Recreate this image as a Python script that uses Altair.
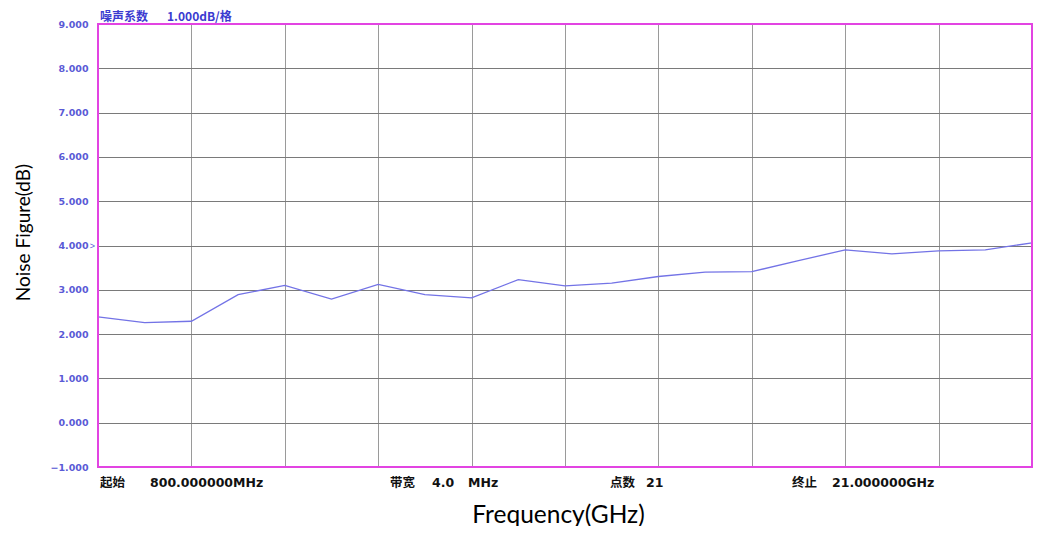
import altair as alt
import pandas as pd

freq_ghz = [0.80, 1.81, 2.82, 3.83, 4.84, 5.85, 6.86, 7.87, 8.88, 9.89, 10.90,
            11.91, 12.92, 13.93, 14.94, 15.95, 16.96, 17.97, 18.98, 19.99, 21.00]
noise_db = [2.39, 2.26, 2.29, 2.89, 3.10, 2.79, 3.12, 2.89, 2.82, 3.23, 3.09,
            3.15, 3.30, 3.40, 3.41, 3.66, 3.90, 3.81, 3.88, 3.90, 4.06]
y_ticks = [-1, 0, 1, 2, 3, 4, 5, 6, 7, 8, 9]
x_grid = [2.82, 4.84, 6.86, 8.88, 10.9, 12.92, 14.94, 16.96, 18.98]

df = pd.DataFrame({"f": freq_ghz, "nf": noise_db})

PL = 90
W, H = 934, 443
x_scale = alt.Scale(domain=[0.8, 21], nice=False, zero=False)
y_scale = alt.Scale(domain=[-1, 9], nice=False, zero=False)

line = alt.Chart(df).mark_line(color="#7373e6", strokeWidth=1.3).encode(
    x=alt.X("f:Q", scale=x_scale,
            axis=alt.Axis(values=x_grid, labels=False, ticks=False, domain=False,
                          grid=True, gridColor="#9a9a9a", gridWidth=1,
                          title="Frequency(GHz)", titleFont="Lato", titleFontSize=24.5,
                          titleFontWeight="normal", titleColor="#000000",
                          titleBaseline="alphabetic", titleY=55, titleX=460)),
    y=alt.Y("nf:Q", scale=y_scale,
            axis=alt.Axis(values=y_ticks, format=".3f", ticks=False, domain=False,
                          grid=True, gridColor="#7a7a7a", gridWidth=1,
                          labelColor="#5a5ad6", labelFont="DejaVu Sans",
                          labelFontSize=9.5, labelFontWeight="bold", labelPadding=10,
                          title="Noise Figure(dB)", titleFont="Lato", titleFontSize=19,
                          titleFontWeight="normal", titleColor="#000000",
                          titleX=-65, titleY=208)),
)

frame = alt.Chart(pd.DataFrame({"k": [0]})).mark_rect(
    fill=None, filled=False, stroke="#e244e2", strokeWidth=2
).encode(x=alt.value(0), x2=alt.value(W), y=alt.value(0), y2=alt.value(H))

ref_marker = alt.Chart(pd.DataFrame({"v": [4]})).mark_text(
    text=">", color="#5a5ad6", fontSize=9, align="right", dx=-3
).encode(x=alt.value(0), y=alt.Y("v:Q", scale=y_scale))

top_labels = pd.DataFrame({
    "t": ["噪声系数", "1.000dB/格"],
    "px": [2, 69],
})
top_txt = alt.Chart(top_labels).mark_text(
    color="#3b3bd0", fontSize=12, fontWeight="bold", font="Noto Sans CJK SC",
    align="left", baseline="middle"
).encode(x=alt.X("px:Q", scale=None), y=alt.value(-7), text="t:N")

cjk_labels = pd.DataFrame({
    "t": ["起始", "带宽", "点数", "终止"],
    "px": [2, 292, 512, 694],
})
latin_labels = pd.DataFrame({
    "t": ["800.000000MHz", "4.0", "MHz", "21", "21.000000GHz"],
    "px": [52, 334, 370, 548, 734],
})
cjk_txt = alt.Chart(cjk_labels).mark_text(
    color="#111111", fontSize=12.5, fontWeight="bold", font="Noto Sans CJK SC",
    align="left", baseline="middle"
).encode(x=alt.X("px:Q", scale=None), y=alt.value(H + 16), text="t:N")
latin_txt = alt.Chart(latin_labels).mark_text(
    color="#111111", fontSize=12.5, fontWeight="bold", font="DejaVu Sans",
    align="left", baseline="middle"
).encode(x=alt.X("px:Q", scale=None), y=alt.value(H + 16), text="t:N")

chart = alt.layer(line, frame, ref_marker, top_txt, cjk_txt, latin_txt).properties(
    width=W, height=H,
    autosize=alt.AutoSizeParams(type="none"),
    padding={"left": PL, "top": 16, "right": 1, "bottom": 59},
    background="white",
).configure_view(stroke=None)

chart.save("out.html", embed_options={"renderer": "svg", "actions": False})
